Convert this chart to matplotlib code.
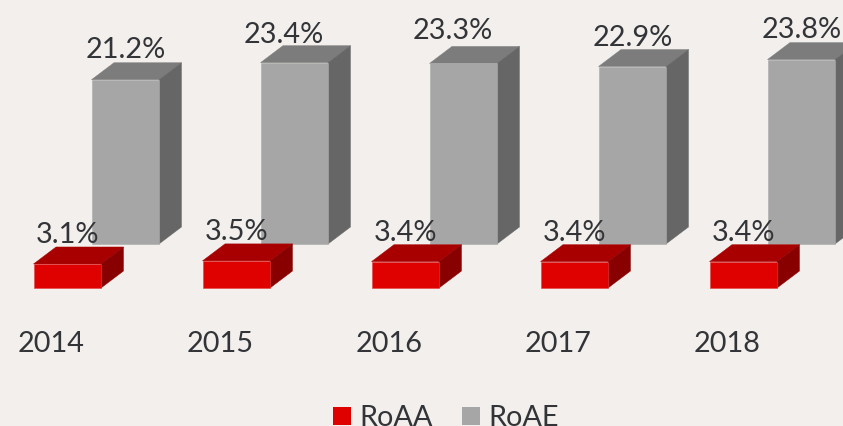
import matplotlib
matplotlib.use('Agg')
import matplotlib.pyplot as plt
from matplotlib.patches import Patch, Polygon

years = ['2014', '2015', '2016', '2017', '2018']
roaa = [3.1, 3.5, 3.4, 3.4, 3.4]
roae = [21.2, 23.4, 23.3, 22.9, 23.8]

plt.rcParams['font.family'] = ['Lato', 'DejaVu Sans']

BG = '#F2EFED'
TEXT = '#333438'
RED = ('#DF0000', '#A80000', '#880000')
GREY = ('#A6A6A6', '#7C7C7C', '#666666')
FONT = 20.8

# one category is 169 px wide, one percentage point is 7.75 px tall
PX_X = 169.0
PX_Y = 7.75
BAR_W = 67.5 / PX_X
DEPTH_X = 22.5 / PX_X
DEPTH_Y = 17 / PX_Y
GREY_DX = 58 / PX_X
GREY_DY = 44 / PX_Y

# the grey labels were nudged by hand in the original, offsets in px
GREY_LABEL_NUDGE = [(0.5, 22), (-10.5, 20), (-10.5, 24), (0.5, 21), (0.5, 22)]


def box(ax, x, base, value, colors, edge):
    front, top, side = colors
    y = base + value
    xr = x + BAR_W
    ax.add_patch(Polygon([(x, y), (xr, y), (xr + DEPTH_X, y + DEPTH_Y), (x + DEPTH_X, y + DEPTH_Y)],
                         fc=top, ec=top, lw=0.3))
    ax.add_patch(Polygon([(xr, base), (xr + DEPTH_X, base + DEPTH_Y), (xr + DEPTH_X, y + DEPTH_Y), (xr, y)],
                         fc=side, ec=side, lw=0.3))
    ax.add_patch(Polygon([(x, base), (xr, base), (xr, y), (x, y)], fc=front, ec=edge, lw=0.4))


fig = plt.figure(figsize=(8.43, 4.26), dpi=100, facecolor=BG)
ax = fig.add_axes([0, 0, 1, 1])
ax.set_xlim(-33.5 / PX_X, (843 - 33.5) / PX_X)
ax.set_ylim(-(426 - 288) / PX_Y, 288 / PX_Y)
ax.axis('off')

for i, year in enumerate(years):
    # grey bars sit behind and to the right, so draw them first
    box(ax, i + GREY_DX, GREY_DY, roae[i], GREY, '#AAAAAA')
    box(ax, i, 0, roaa[i], RED, '#E24040')

    ax.annotate(f'{roae[i]:.1f}%', (i + GREY_DX + BAR_W / 2, GREY_DY + roae[i]), xytext=GREY_LABEL_NUDGE[i],
                textcoords='offset pixels', ha='center', va='baseline', fontsize=FONT, color=TEXT)
    ax.annotate(f'{roaa[i]:.1f}%', (i + BAR_W / 2, roaa[i]), xytext=(0.5, 21),
                textcoords='offset pixels', ha='center', va='baseline', fontsize=FONT, color=TEXT)
    ax.annotate(year, (i, 0), xytext=(-15.5, -64), textcoords='offset pixels',
                ha='left', va='baseline', fontsize=FONT, color=TEXT)

handles = [Patch(fc='#DF0000', label='RoAA'), Patch(fc='#A6A6A6', label='RoAE')]
ax.legend(handles=handles, ncol=2, loc='lower center', bbox_to_anchor=(0.529, -0.046), frameon=False,
          fontsize=FONT, labelcolor=TEXT, handlelength=0.63, handleheight=0.63, handletextpad=0.27,
          columnspacing=1.03, borderpad=0)

fig.savefig('out.png', dpi=100, facecolor=BG)
